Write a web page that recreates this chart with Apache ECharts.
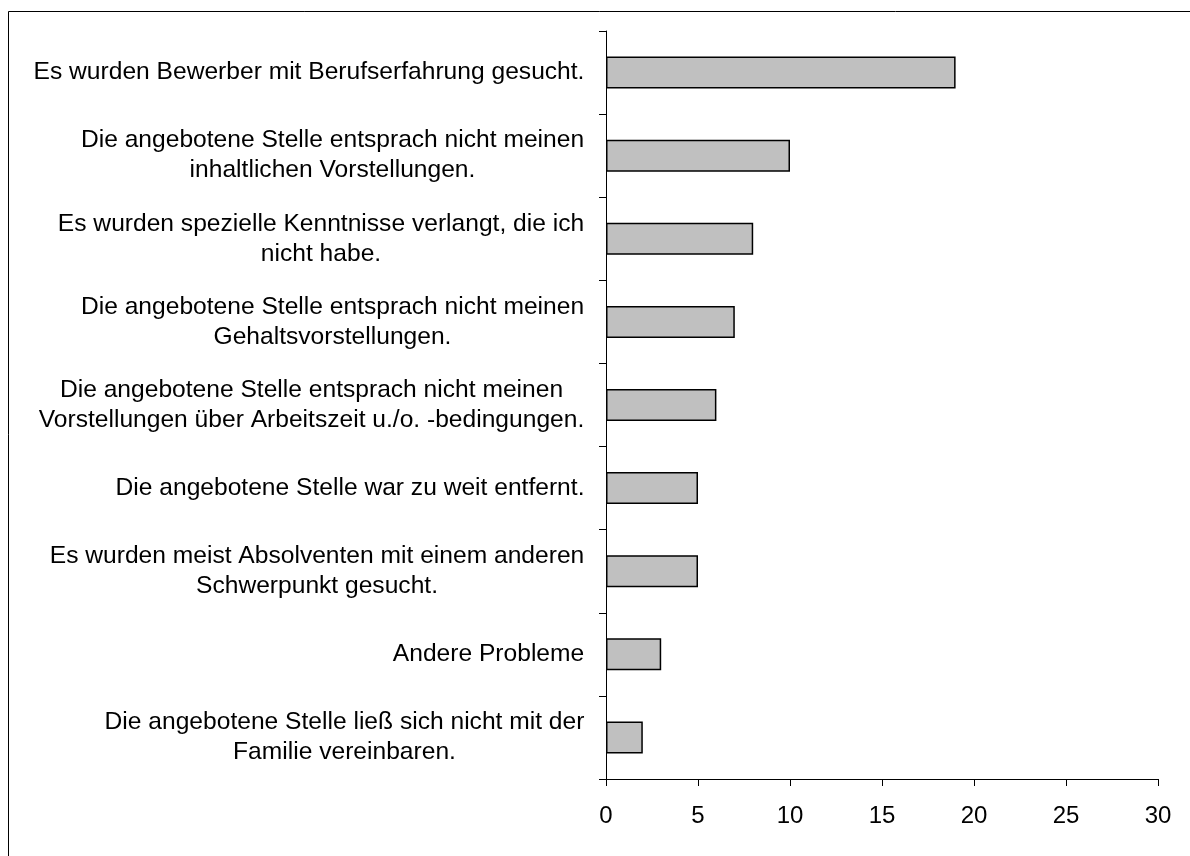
<!DOCTYPE html>
<html>
<head>
<meta charset="utf-8">
<script src="https://cdn.jsdelivr.net/npm/echarts@6/dist/echarts.min.js"></script>
<style>
html,body{margin:0;padding:0;background:#fff;}
#chart{width:1190px;height:856px;}
</style>
</head>
<body>
<div id="chart"></div>
<script>
const categories = [
  "Es wurden Bewerber mit Berufserfahrung gesucht.",
  "Die angebotene Stelle entsprach nicht meinen\ninhaltlichen Vorstellungen.",
  "Es wurden spezielle Kenntnisse verlangt, die ich\nnicht habe.",
  "Die angebotene Stelle entsprach nicht meinen\nGehaltsvorstellungen.",
  "Die angebotene Stelle entsprach nicht meinen\nVorstellungen über Arbeitszeit u./o. -bedingungen.",
  "Die angebotene Stelle war zu weit entfernt.",
  "Es wurden meist Absolventen mit einem anderen\nSchwerpunkt gesucht.",
  "Andere Probleme",
  "Die angebotene Stelle ließ sich nicht mit der\nFamilie vereinbaren."
];
const values = [19, 10, 8, 7, 6, 5, 5, 3, 2];
const xTicks = [0, 5, 10, 15, 20, 25, 30];

const FONT = "Liberation Sans, Arial, sans-serif";
const FS = 24.6;
const LH = 30;
const ctx = document.createElement('canvas').getContext('2d');
ctx.font = FS + "px " + FONT;
const rich = {};
categories.forEach((c, i) => {
  const w = Math.max(...c.split('\n').map(l => ctx.measureText(l).width));
  rich['l' + i] = {width: Math.ceil(w) + 1, align: 'center', fontSize: FS, fontFamily: FONT, color: '#000', lineHeight: LH};
});

const chart = echarts.init(document.getElementById('chart'), null, {renderer: 'canvas'});
chart.setOption({
  animation: false,
  backgroundColor: '#fff',
  graphic: [{
    type: 'rect', shape: {x: 8.5, y: 11.5, width: 1300, height: 1000},
    style: {fill: 'none', stroke: '#000', lineWidth: 1}, silent: true, z: -1
  }],
  grid: {left: 606, right: 32, top: 31, bottom: 77, containLabel: false},
  xAxis: {
    type: 'value', min: xTicks[0], max: xTicks[xTicks.length - 1], interval: 5,
    axisLine: {show: true, lineStyle: {color: '#000', width: 1}},
    axisTick: {show: true, length: 7, lineStyle: {color: '#000'}},
    splitLine: {show: false},
    axisLabel: {color: '#000', fontSize: 24, fontFamily: FONT, margin: 25}
  },
  yAxis: {
    type: 'category', data: categories, inverse: true,
    axisLine: {show: true, lineStyle: {color: '#000', width: 1}},
    axisTick: {show: true, length: 7, lineStyle: {color: '#000'}},
    axisLabel: {
      margin: 21, fontSize: FS, fontFamily: FONT, color: '#000', lineHeight: LH,
      formatter: (v, i) => v.split('\n').map(l => '{l' + i + '|' + l + '}').join('\n'),
      rich: rich
    }
  },
  series: [{
    type: 'bar', data: values, barWidth: 32,
    itemStyle: {color: '#c0c0c0', borderColor: '#000', borderWidth: 1.5}
  }]
});
</script>
</body>
</html>
